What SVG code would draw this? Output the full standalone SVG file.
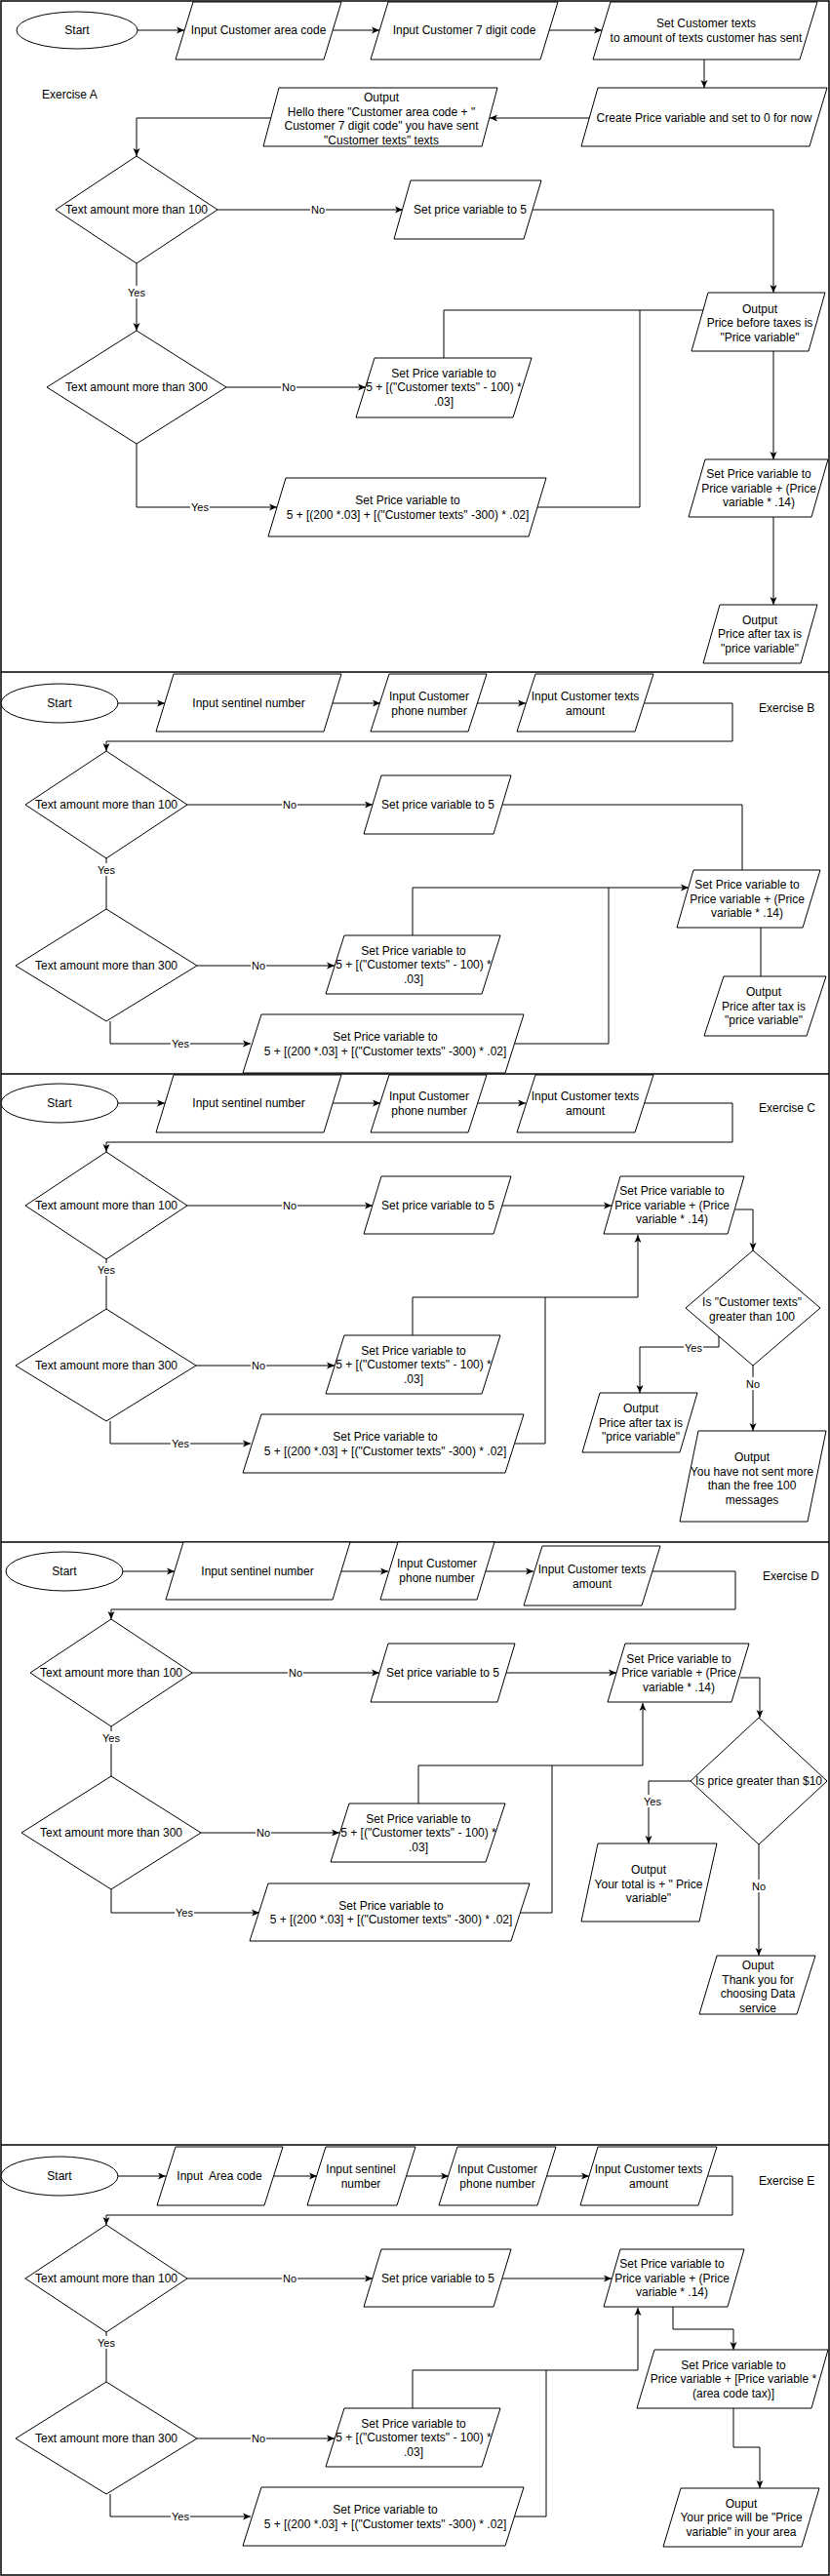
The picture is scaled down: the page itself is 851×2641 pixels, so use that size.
<svg xmlns="http://www.w3.org/2000/svg" width="851" height="2641" viewBox="0 0 851 2641">
<style>
.n{fill:#fff;stroke:#000;stroke-width:1}
.t{font-family:"Liberation Sans",Arial,sans-serif;font-size:12px;text-anchor:middle;fill:#000}
.tl{font-family:"Liberation Sans",Arial,sans-serif;font-size:12px;fill:#000}
.e{fill:none;stroke:#000;stroke-width:1}
.a{marker-end:url(#arr)}
.lb{font-family:"Liberation Sans",Arial,sans-serif;font-size:11px;text-anchor:middle;fill:#000}
.bg{fill:#fff}
.fr{fill:none;stroke:#000;stroke-width:1.5}
</style>
<defs>
<marker id="arr" markerWidth="10" markerHeight="10" refX="9" refY="5" orient="auto" markerUnits="userSpaceOnUse"><path d="M1,1.5 L9,5 L1,8.5 L3,5 Z" fill="#000"/></marker>
</defs>
<rect width="851" height="2641" fill="#fff"/>
<g id="frame">
<rect class="fr" x="1" y="1" width="849" height="2639"/>
<line class="fr" x1="1" y1="689" x2="850" y2="689"/>
<line class="fr" x1="1" y1="1101" x2="850" y2="1101"/>
<line class="fr" x1="1" y1="1581" x2="850" y2="1581"/>
<line class="fr" x1="1" y1="2199" x2="850" y2="2199"/>
</g>
<g id="connectors">
<!-- A -->
<path class="e a" d="M141,31 H189"/>
<path class="e a" d="M341,31 H389"/>
<path class="e a" d="M563,31 H617"/>
<path class="e a" d="M722,61 V90"/>
<path class="e a" d="M605,121 H502"/>
<path class="e a" d="M278,121 H140 V160"/>
<path class="e a" d="M223,215 H413"/>
<path class="e a" d="M546,215 H793 V300"/>
<path class="e a" d="M140,270 V339"/>
<path class="e a" d="M232,397 H375"/>
<path class="e a" d="M140,455 V520 H284"/>
<path class="e" d="M455,367 V318 H721"/>
<path class="e" d="M551,520 H656 V318"/>
<path class="e a" d="M793,360 V471"/>
<path class="e a" d="M793,530 V620"/>
<!-- B -->
<path class="e a" d="M121,721 H169"/>
<path class="e a" d="M341,721 H390"/>
<path class="e a" d="M489,721 H539"/>
<path class="e a" d="M661,721 H751 V760 H109 V770"/>
<path class="e a" d="M192,825 H382"/>
<path class="e" d="M515,825 H761 V892"/>
<path class="e" d="M109,880 V932"/>
<path class="e a" d="M202,990 H343"/>
<path class="e a" d="M113,1047 V1070 H257"/>
<path class="e a" d="M423,959 V910 H706"/>
<path class="e" d="M528,1070 H624 V910"/>
<path class="e" d="M780,951 V1001"/>
<!-- C -->
<path class="e a" d="M121,1131 H169"/>
<path class="e a" d="M341,1131 H390"/>
<path class="e a" d="M489,1131 H539"/>
<path class="e a" d="M661,1131 H751 V1171 H109 V1181"/>
<path class="e a" d="M192,1236 H382"/>
<path class="e a" d="M515,1236 H627"/>
<path class="e a" d="M754,1240 H772 V1282"/>
<path class="e" d="M109,1291 V1342"/>
<path class="e a" d="M201,1400 H343"/>
<path class="e a" d="M113,1457 V1480 H257"/>
<path class="e a" d="M423,1369 V1330 H654 V1266"/>
<path class="e" d="M528,1480 H559 V1330"/>
<path class="e a" d="M737,1370 V1381 H656 V1428"/>
<path class="e a" d="M772,1400 V1467"/>
<!-- D -->
<path class="e a" d="M126,1611 H179"/>
<path class="e a" d="M350,1611 H398"/>
<path class="e a" d="M498,1611 H547"/>
<path class="e a" d="M668,1611 H754 V1650 H114 V1660"/>
<path class="e a" d="M197,1715 H389"/>
<path class="e a" d="M519,1715 H632"/>
<path class="e a" d="M759,1720 H779 V1761"/>
<path class="e" d="M114,1770 V1821"/>
<path class="e a" d="M206,1879 H348"/>
<path class="e a" d="M114,1937 V1961 H266"/>
<path class="e a" d="M429,1849 V1810 H659 V1746"/>
<path class="e" d="M533,1961 H566 V1810"/>
<path class="e a" d="M708,1826 H665 V1890"/>
<path class="e a" d="M778,1891 V2005"/>
<!-- E -->
<path class="e a" d="M121,2231 H170"/>
<path class="e a" d="M280,2231 H325"/>
<path class="e a" d="M417,2231 H460"/>
<path class="e a" d="M560,2231 H604"/>
<path class="e a" d="M726,2231 H751 V2271 H109 V2281"/>
<path class="e a" d="M192,2336 H382"/>
<path class="e a" d="M515,2336 H627"/>
<path class="e a" d="M690,2365 V2388 H752 V2409"/>
<path class="e a" d="M752,2469 V2509 H779 V2551"/>
<path class="e" d="M109,2391 V2442"/>
<path class="e a" d="M202,2500 H343"/>
<path class="e a" d="M113,2557 V2580 H257"/>
<path class="e a" d="M423,2469 V2430 H654 V2366"/>
<path class="e" d="M528,2580 H560 V2430"/>
</g>
<g id="edge-labels">
<rect class="bg" x="318" y="208" width="16" height="13"/><text class="lb" x="326" y="219">No</text>
<rect class="bg" x="130" y="293" width="20" height="13"/><text class="lb" x="140" y="304">Yes</text>
<rect class="bg" x="288" y="390" width="16" height="13"/><text class="lb" x="296" y="401">No</text>
<rect class="bg" x="195" y="513" width="20" height="13"/><text class="lb" x="205" y="524">Yes</text>
<rect class="bg" x="289" y="818" width="16" height="13"/><text class="lb" x="297" y="829">No</text>
<rect class="bg" x="99" y="885" width="20" height="13"/><text class="lb" x="109" y="896">Yes</text>
<rect class="bg" x="257" y="983" width="16" height="13"/><text class="lb" x="265" y="994">No</text>
<rect class="bg" x="175" y="1063" width="20" height="13"/><text class="lb" x="185" y="1074">Yes</text>
<rect class="bg" x="289" y="1229" width="16" height="13"/><text class="lb" x="297" y="1240">No</text>
<rect class="bg" x="99" y="1295" width="20" height="13"/><text class="lb" x="109" y="1306">Yes</text>
<rect class="bg" x="257" y="1393" width="16" height="13"/><text class="lb" x="265" y="1404">No</text>
<rect class="bg" x="175" y="1473" width="20" height="13"/><text class="lb" x="185" y="1484">Yes</text>
<rect class="bg" x="701" y="1375" width="20" height="13"/><text class="lb" x="711" y="1386">Yes</text>
<rect class="bg" x="764" y="1412" width="16" height="13"/><text class="lb" x="772" y="1423">No</text>
<rect class="bg" x="295" y="1708" width="16" height="13"/><text class="lb" x="303" y="1719">No</text>
<rect class="bg" x="104" y="1775" width="20" height="13"/><text class="lb" x="114" y="1786">Yes</text>
<rect class="bg" x="262" y="1872" width="16" height="13"/><text class="lb" x="270" y="1883">No</text>
<rect class="bg" x="179" y="1954" width="20" height="13"/><text class="lb" x="189" y="1965">Yes</text>
<rect class="bg" x="659" y="1840" width="20" height="13"/><text class="lb" x="669" y="1851">Yes</text>
<rect class="bg" x="770" y="1927" width="16" height="13"/><text class="lb" x="778" y="1938">No</text>
<rect class="bg" x="289" y="2329" width="16" height="13"/><text class="lb" x="297" y="2340">No</text>
<rect class="bg" x="99" y="2395" width="20" height="13"/><text class="lb" x="109" y="2406">Yes</text>
<rect class="bg" x="257" y="2493" width="16" height="13"/><text class="lb" x="265" y="2504">No</text>
<rect class="bg" x="175" y="2573" width="20" height="13"/><text class="lb" x="185" y="2584">Yes</text>
</g>
<!-- Exercise A nodes -->
<g id="A-start"><ellipse class="n" cx="79" cy="31" rx="62" ry="19"/><text class="t" x="79" y="35">Start</text></g>
<g id="A-in1"><polygon class="n" points="198,2 350,2 332,61 180,61"/><text class="t" x="265" y="35">Input Customer area code</text></g>
<g id="A-in2"><polygon class="n" points="398,2 572,2 554,61 380,61"/><text class="t" x="476" y="35">Input Customer 7 digit code</text></g>
<g id="A-in3"><polygon class="n" points="626,2 838,2 820,61 608,61"/><text class="t" x="724" y="28">Set Customer texts</text><text class="t" x="724" y="43">to amount of texts customer has sent</text></g>
<g id="A-create"><polygon class="n" points="613,90 848,90 830,150 596,150"/><text class="t" x="722" y="125">Create Price variable and set to 0 for now</text></g>
<g id="A-out1"><polygon class="n" points="286,90 510,90 494,150 270,150"/><text class="t" x="391" y="104">Output</text><text class="t" x="391" y="118.5">Hello there "Customer area code + "</text><text class="t" x="391" y="133">Customer 7 digit code" you have sent</text><text class="t" x="391" y="147.5">"Customer texts" texts</text></g>
<g id="A-label"><text class="tl" x="43" y="101">Exercise A</text></g>
<g id="A-d1"><polygon class="n" points="140,160 223,215 140,270 57,215"/><text class="t" x="140" y="219">Text amount more than 100</text></g>
<g id="A-set5"><polygon class="n" points="421,185 555,185 537,245 404,245"/><text class="t" x="482" y="219">Set price variable to 5</text></g>
<g id="A-d2"><polygon class="n" points="140,339 232,397 140,455 48,397"/><text class="t" x="140" y="401">Text amount more than 300</text></g>
<g id="A-set100"><polygon class="n" points="384,367 545,367 526,428 365,428"/><text class="t" x="455" y="386.5">Set Price variable to</text><text class="t" x="455" y="401">5 + [("Customer texts" - 100) *</text><text class="t" x="455" y="415.5">.03]</text></g>
<g id="A-set300"><polygon class="n" points="293,490 560,490 542,550 275,550"/><text class="t" x="418" y="517">Set Price variable to</text><text class="t" x="418" y="531.5">5 + [(200 *.03] + [("Customer texts" -300) * .02]</text></g>
<g id="A-outpre"><polygon class="n" points="726,300 846,300 829,360 709,360"/><text class="t" x="779" y="320.5">Output</text><text class="t" x="779" y="335">Price before taxes is</text><text class="t" x="779" y="349.5">"Price variable"</text></g>
<g id="A-tax"><polygon class="n" points="723,471 849,471 832,530 706,530"/><text class="t" x="778" y="490">Set Price variable to</text><text class="t" x="778" y="504.5">Price variable + (Price</text><text class="t" x="778" y="519">variable * .14)</text></g>
<g id="A-outafter"><polygon class="n" points="738,620 838,620 821,680 721,680"/><text class="t" x="779" y="639.5">Output</text><text class="t" x="779" y="654">Price after tax is</text><text class="t" x="779" y="668.5">"price variable"</text></g>
<!-- Exercise B nodes -->
<g id="B-start"><ellipse class="n" cx="61" cy="721" rx="60" ry="20"/><text class="t" x="61" y="725">Start</text></g>
<g id="B-in1"><polygon class="n" points="178,691 350,691 332,750 160,750"/><text class="t" x="255" y="725">Input sentinel number</text></g>
<g id="B-in2"><polygon class="n" points="399,691 499,691 480,750 380,750"/><text class="t" x="440" y="718">Input Customer</text><text class="t" x="440" y="732.5">phone number</text></g>
<g id="B-in3"><polygon class="n" points="549,691 670,691 651,750 530,750"/><text class="t" x="600" y="718">Input Customer texts</text><text class="t" x="600" y="732.5">amount</text></g>
<g id="B-label"><text class="tl" x="778" y="730">Exercise B</text></g>
<g id="B-d1"><polygon class="n" points="109,770 192,825 109,880 26,825"/><text class="t" x="109" y="829">Text amount more than 100</text></g>
<g id="B-set5"><polygon class="n" points="391,795 524,795 506,855 373,855"/><text class="t" x="449" y="829">Set price variable to 5</text></g>
<g id="B-d2"><polygon class="n" points="109,932 202,990 109,1047 16,990"/><text class="t" x="109" y="994">Text amount more than 300</text></g>
<g id="B-set100"><polygon class="n" points="353,959 513,959 494,1019 334,1019"/><text class="t" x="424" y="978.5">Set Price variable to</text><text class="t" x="424" y="993">5 + [("Customer texts" - 100) *</text><text class="t" x="424" y="1007.5">.03]</text></g>
<g id="B-set300"><polygon class="n" points="268,1040 537,1040 518,1100 249,1100"/><text class="t" x="395" y="1067">Set Price variable to</text><text class="t" x="395" y="1081.5">5 + [(200 *.03] + [("Customer texts" -300) * .02]</text></g>
<g id="B-tax"><polygon class="n" points="711,892 841,892 823,951 694,951"/><text class="t" x="766" y="911">Set Price variable to</text><text class="t" x="766" y="925.5">Price variable + (Price</text><text class="t" x="766" y="940">variable * .14)</text></g>
<g id="B-out"><polygon class="n" points="742,1001 847,1001 827,1062 722,1062"/><text class="t" x="783" y="1021">Output</text><text class="t" x="783" y="1035.5">Price after tax is</text><text class="t" x="783" y="1050">"price variable"</text></g>
<!-- Exercise C nodes -->
<g id="C-start"><ellipse class="n" cx="61" cy="1131" rx="60" ry="20"/><text class="t" x="61" y="1135">Start</text></g>
<g id="C-in1"><polygon class="n" points="178,1102 350,1102 332,1161 160,1161"/><text class="t" x="255" y="1135">Input sentinel number</text></g>
<g id="C-in2"><polygon class="n" points="399,1102 499,1102 480,1161 380,1161"/><text class="t" x="440" y="1128">Input Customer</text><text class="t" x="440" y="1142.5">phone number</text></g>
<g id="C-in3"><polygon class="n" points="549,1102 670,1102 651,1161 530,1161"/><text class="t" x="600" y="1128">Input Customer texts</text><text class="t" x="600" y="1142.5">amount</text></g>
<g id="C-label"><text class="tl" x="778" y="1140">Exercise C</text></g>
<g id="C-d1"><polygon class="n" points="109,1181 192,1236 109,1291 26,1236"/><text class="t" x="109" y="1240">Text amount more than 100</text></g>
<g id="C-set5"><polygon class="n" points="391,1206 524,1206 506,1265 373,1265"/><text class="t" x="449" y="1240">Set price variable to 5</text></g>
<g id="C-tax"><polygon class="n" points="636,1206 763,1206 746,1265 619,1265"/><text class="t" x="689" y="1225">Set Price variable to</text><text class="t" x="689" y="1239.5">Price variable + (Price</text><text class="t" x="689" y="1254">variable * .14)</text></g>
<g id="C-d3"><polygon class="n" points="772,1282 841,1341 772,1400 703,1341"/><text class="t" x="771" y="1339">Is "Customer texts"</text><text class="t" x="771" y="1353.5">greater than 100</text></g>
<g id="C-d2"><polygon class="n" points="109,1342 201,1400 109,1457 16,1400"/><text class="t" x="109" y="1404">Text amount more than 300</text></g>
<g id="C-set100"><polygon class="n" points="353,1369 513,1369 494,1429 334,1429"/><text class="t" x="424" y="1388.5">Set Price variable to</text><text class="t" x="424" y="1403">5 + [("Customer texts" - 100) *</text><text class="t" x="424" y="1417.5">.03]</text></g>
<g id="C-set300"><polygon class="n" points="268,1450 537,1450 518,1510 249,1510"/><text class="t" x="395" y="1477">Set Price variable to</text><text class="t" x="395" y="1491.5">5 + [(200 *.03] + [("Customer texts" -300) * .02]</text></g>
<g id="C-outa"><polygon class="n" points="615,1428 715,1428 697,1489 597,1489"/><text class="t" x="657" y="1448">Output</text><text class="t" x="657" y="1462.5">Price after tax is</text><text class="t" x="657" y="1477">"price variable"</text></g>
<g id="C-outb"><polygon class="n" points="716,1467 847,1467 828,1560 697,1560"/><text class="t" x="771" y="1498">Output</text><text class="t" x="771" y="1512.5">You have not sent more</text><text class="t" x="771" y="1527">than the free 100</text><text class="t" x="771" y="1541.5">messages</text></g>
<!-- Exercise D nodes -->
<g id="D-start"><ellipse class="n" cx="66" cy="1611" rx="60" ry="20"/><text class="t" x="66" y="1615">Start</text></g>
<g id="D-in1"><polygon class="n" points="188,1581 359,1581 341,1640 170,1640"/><text class="t" x="264" y="1615">Input sentinel number</text></g>
<g id="D-in2"><polygon class="n" points="408,1581 507,1581 489,1640 390,1640"/><text class="t" x="448" y="1607">Input Customer</text><text class="t" x="448" y="1621.5">phone number</text></g>
<g id="D-in3"><polygon class="n" points="556,1585 677,1585 658,1646 537,1646"/><text class="t" x="607" y="1613">Input Customer texts</text><text class="t" x="607" y="1627.5">amount</text></g>
<g id="D-label"><text class="tl" x="782" y="1620">Exercise D</text></g>
<g id="D-d1"><polygon class="n" points="114,1660 197,1715 114,1770 31,1715"/><text class="t" x="114" y="1719">Text amount more than 100</text></g>
<g id="D-set5"><polygon class="n" points="398,1685 528,1685 510,1745 380,1745"/><text class="t" x="454" y="1719">Set price variable to 5</text></g>
<g id="D-tax"><polygon class="n" points="641,1685 768,1685 750,1745 623,1745"/><text class="t" x="696" y="1704.5">Set Price variable to</text><text class="t" x="696" y="1719">Price variable + (Price</text><text class="t" x="696" y="1733.5">variable * .14)</text></g>
<g id="D-d3"><polygon class="n" points="778,1761 848,1826 778,1891 708,1826"/><text class="t" x="778" y="1830">Is price greater than $10</text></g>
<g id="D-d2"><polygon class="n" points="114,1821 206,1879 114,1937 22,1879"/><text class="t" x="114" y="1883">Text amount more than 300</text></g>
<g id="D-set100"><polygon class="n" points="358,1849 518,1849 498,1909 339,1909"/><text class="t" x="429" y="1868.5">Set Price variable to</text><text class="t" x="429" y="1883">5 + [("Customer texts" - 100) *</text><text class="t" x="429" y="1897.5">.03]</text></g>
<g id="D-set300"><polygon class="n" points="275,1931 543,1931 524,1990 256,1990"/><text class="t" x="401" y="1957.5">Set Price variable to</text><text class="t" x="401" y="1972">5 + [(200 *.03] + [("Customer texts" -300) * .02]</text></g>
<g id="D-outa"><polygon class="n" points="613,1890 735,1890 717,1970 596,1970"/><text class="t" x="665" y="1921">Output</text><text class="t" x="665" y="1935.5">Your total is + " Price</text><text class="t" x="665" y="1950">variable"</text></g>
<g id="D-outb"><polygon class="n" points="735,2005 836,2005 817,2065 717,2065"/><text class="t" x="777" y="2019">Ouput</text><text class="t" x="777" y="2033.5">Thank you for</text><text class="t" x="777" y="2048">choosing Data</text><text class="t" x="777" y="2062.5">service</text></g>
<!-- Exercise E nodes -->
<g id="E-start"><ellipse class="n" cx="61" cy="2231" rx="60" ry="20"/><text class="t" x="61" y="2235">Start</text></g>
<g id="E-in1"><polygon class="n" points="180,2201 290,2201 271,2261 161,2261"/><text class="t" x="225" y="2235" xml:space="preserve">Input  Area code</text></g>
<g id="E-in2"><polygon class="n" points="334,2201 426,2201 407,2261 315,2261"/><text class="t" x="370" y="2228">Input sentinel</text><text class="t" x="370" y="2242.5">number</text></g>
<g id="E-in3"><polygon class="n" points="469,2201 570,2201 551,2261 450,2261"/><text class="t" x="510" y="2228">Input Customer</text><text class="t" x="510" y="2242.5">phone number</text></g>
<g id="E-in4"><polygon class="n" points="613,2201 735,2201 716,2261 595,2261"/><text class="t" x="665" y="2228">Input Customer texts</text><text class="t" x="665" y="2242.5">amount</text></g>
<g id="E-label"><text class="tl" x="778" y="2240">Exercise E</text></g>
<g id="E-d1"><polygon class="n" points="109,2281 192,2336 109,2391 26,2336"/><text class="t" x="109" y="2340">Text amount more than 100</text></g>
<g id="E-set5"><polygon class="n" points="391,2306 524,2306 506,2365 373,2365"/><text class="t" x="449" y="2340">Set price variable to 5</text></g>
<g id="E-tax"><polygon class="n" points="636,2306 763,2306 746,2365 619,2365"/><text class="t" x="689" y="2325">Set Price variable to</text><text class="t" x="689" y="2339.5">Price variable + (Price</text><text class="t" x="689" y="2354">variable * .14)</text></g>
<g id="E-area"><polygon class="n" points="671,2409 849,2409 832,2469 653,2469"/><text class="t" x="752" y="2428.5">Set Price variable to</text><text class="t" x="752" y="2443">Price variable + [Price variable *</text><text class="t" x="752" y="2457.5">(area code tax)]</text></g>
<g id="E-out"><polygon class="n" points="698,2551 840,2551 822,2611 680,2611"/><text class="t" x="760" y="2570.5">Ouput</text><text class="t" x="760" y="2585">Your price will be "Price</text><text class="t" x="760" y="2599.5">variable" in your area</text></g>
<g id="E-d2"><polygon class="n" points="109,2442 202,2500 109,2557 16,2500"/><text class="t" x="109" y="2504">Text amount more than 300</text></g>
<g id="E-set100"><polygon class="n" points="353,2469 513,2469 494,2529 334,2529"/><text class="t" x="424" y="2488.5">Set Price variable to</text><text class="t" x="424" y="2503">5 + [("Customer texts" - 100) *</text><text class="t" x="424" y="2517.5">.03]</text></g>
<g id="E-set300"><polygon class="n" points="268,2550 537,2550 518,2610 249,2610"/><text class="t" x="395" y="2577">Set Price variable to</text><text class="t" x="395" y="2591.5">5 + [(200 *.03] + [("Customer texts" -300) * .02]</text></g>
</svg>
